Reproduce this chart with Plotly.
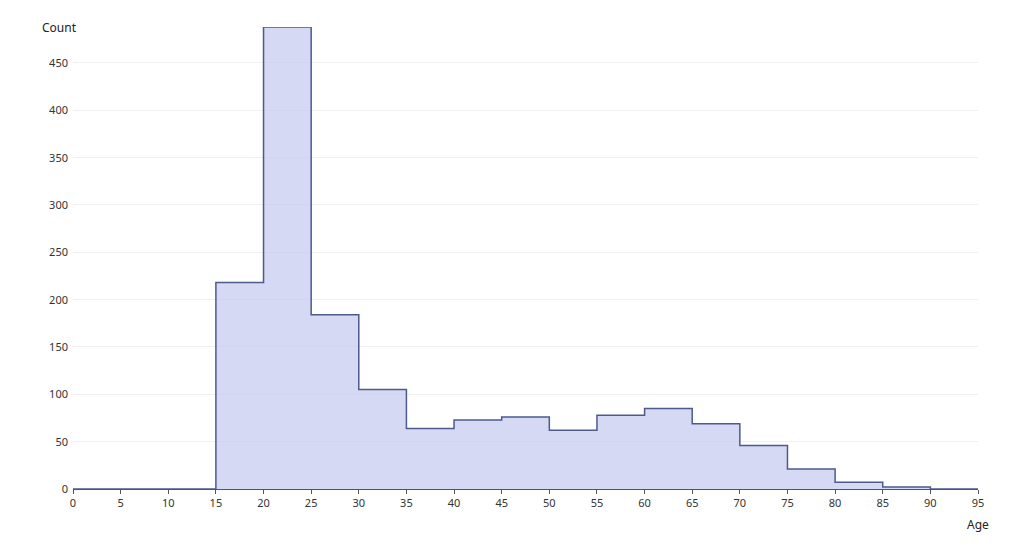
import plotly.graph_objects as go

# Histogram of Age, bin width 5
bin_edges = [0, 5, 10, 15, 20, 25, 30, 35, 40, 45, 50, 55, 60, 65, 70, 75, 80, 85, 90, 95]
counts = [0, 0, 0, 218, 488, 184, 105, 64, 73, 76, 62, 78, 85, 69, 46, 21, 7, 2, 0]
y_ticks = [0, 50, 100, 150, 200, 250, 300, 350, 400, 450]
x_ticks = bin_edges

step_y = counts + [counts[-1]]

fig = go.Figure()
fig.add_trace(go.Scatter(
    x=bin_edges, y=step_y, mode="lines", line_shape="hv",
    line=dict(color="#4e5a8c", width=1.5),
    fill="tozeroy", fillcolor="rgba(200,204,240,0.75)",
    hoverinfo="skip", showlegend=False,
))

font_family = "Noto Sans, Lato, sans-serif"
fig.update_layout(
    width=1024, height=547,
    margin=dict(l=65, r=54, t=19, b=66),
    paper_bgcolor="white", plot_bgcolor="white",
    font=dict(family=font_family, size=11, color="#333333"),
    xaxis=dict(
        range=[0, 95], tickmode="array", tickvals=x_ticks,
        showgrid=False, zeroline=False,
        showline=True, linecolor="#555555", linewidth=1,
        ticks="outside", ticklen=4, tickcolor="#555555",
        tickfont=dict(size=11, color="#333333"),
    ),
    yaxis=dict(
        range=[0, 488], tickmode="array", tickvals=y_ticks,
        showgrid=True, gridcolor="#f0f0f0", gridwidth=1,
        zeroline=False, showline=False, ticks="",
        ticklabelstandoff=4,
        tickfont=dict(size=11, color="#333333"),
    ),
    annotations=[
        dict(text="Count", x=0, y=1, xref="paper", yref="paper",
             xanchor="center", yanchor="middle", xshift=-14, yshift=0,
             showarrow=False, font=dict(size=12, color="#222222")),
        dict(text="Age", x=1, y=0, xref="paper", yref="paper",
             xanchor="center", yanchor="middle", xshift=0, yshift=-35,
             showarrow=False, font=dict(size=12, color="#222222")),
    ],
)

fig.write_html("out.html")
